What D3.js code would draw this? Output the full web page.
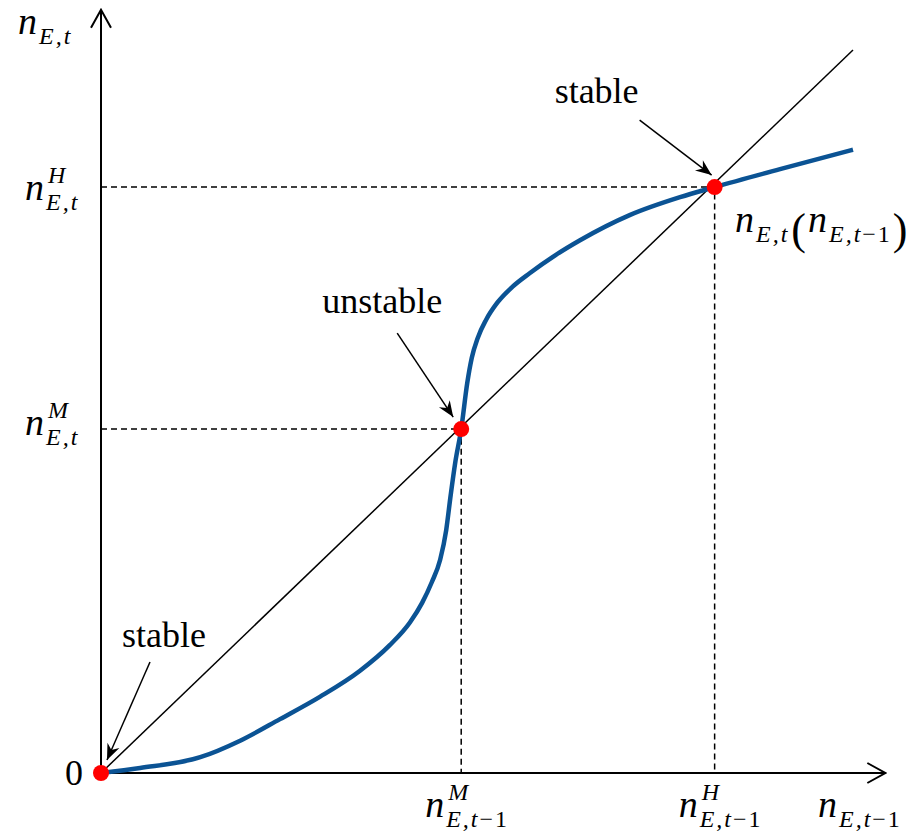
<!DOCTYPE html>
<html>
<head>
<meta charset="utf-8">
<script src="https://cdn.jsdelivr.net/npm/d3@7"></script>
<style>
  body { margin: 0; background: #fff; }
  svg { display: block; }
</style>
</head>
<body>
<script>
// n_{E,t} as a function of n_{E,t-1} (0..100 on both axes)
const curveX = [0, 5.2, 13.2, 18.5, 23.8, 29.1, 34.4, 38.4, 41.1, 42.7, 44.0, 45.1, 45.9, 46.5, 47.1, 47.9, 48.7, 49.3, 50.1, 51.2, 52.7, 54.7, 57.0, 60.4, 63.7, 70.3, 77.0, 81.6, 90.3, 100]
const curveY = [0, 0.7, 2.2, 4.5, 7.5, 10.6, 14.2, 17.8, 21.0, 23.7, 26.6, 29.7, 33.8, 38.7, 43.2, 47.9, 54.3, 57.8, 60.6, 63.1, 65.5, 67.7, 69.6, 72.1, 74.2, 77.7, 80.2, 81.6, 84.1, 86.8]

// fixed points on the 45 degree line
const eqValues = [0, 47.9, 81.6]
const eqLabels = ['stable', 'unstable', 'stable']
const eqSup = ['', 'M', 'H']

const width = 923
const height = 831
const mathFont = "'Liberation Serif'"
const wordFont = "'Liberation Serif'"

let svg = d3.select('body').append('svg')
    .attr('width', width)
    .attr('height', height)

let xScale = d3.scaleLinear().domain([0, 100]).range([101, 853])
let yScale = d3.scaleLinear().domain([0, 100]).range([773, 55])

let defs = svg.append('defs')
defs.append('marker')
    .attr('id', 'chevron')
    .attr('markerUnits', 'userSpaceOnUse')
    .attr('viewBox', '-20 -12 22 24')
    .attr('refX', 0).attr('refY', 0)
    .attr('markerWidth', 22).attr('markerHeight', 24)
    .attr('orient', 'auto')
    .append('path')
    .attr('d', 'M-18,-10 L0,0 L-18,10')
    .attr('fill', 'none')
    .attr('stroke', '#000')
    .attr('stroke-width', 2)
defs.append('marker')
    .attr('id', 'stealth')
    .attr('markerUnits', 'userSpaceOnUse')
    .attr('viewBox', '-17 -8 18 16')
    .attr('refX', 0).attr('refY', 0)
    .attr('markerWidth', 18).attr('markerHeight', 16)
    .attr('orient', 'auto')
    .append('path')
    .attr('d', 'M0,0 L-16,-6.5 L-11,0 L-16,6.5 Z')
    .attr('fill', '#000')

// axes with open arrow heads
svg.append('line')
    .attr('x1', xScale(0)).attr('y1', yScale(0))
    .attr('x2', xScale(104.3)).attr('y2', yScale(0))
    .attr('stroke', '#000').attr('stroke-width', 2)
    .attr('marker-end', 'url(#chevron)')
svg.append('line')
    .attr('x1', xScale(0)).attr('y1', yScale(0))
    .attr('x2', xScale(0)).attr('y2', yScale(106.3))
    .attr('stroke', '#000').attr('stroke-width', 2)
    .attr('marker-end', 'url(#chevron)')

// dashed guides
eqValues.slice(1).forEach(v => {
    svg.append('path')
        .attr('d', `M${xScale(0)},${yScale(v)} H${xScale(v)} V${yScale(0)}`)
        .attr('fill', 'none')
        .attr('stroke', '#000')
        .attr('stroke-width', 1.5)
        .attr('stroke-dasharray', '6,4')
})

// 45 degree line
svg.append('line')
    .attr('x1', xScale(0)).attr('y1', yScale(0))
    .attr('x2', xScale(100)).attr('y2', yScale(100.7))
    .attr('stroke', '#000').attr('stroke-width', 1.5)

// the curve
let line = d3.line()
    .x((d, i) => xScale(curveX[i]))
    .y((d, i) => yScale(curveY[i]))
    .curve(d3.curveMonotoneX)
svg.append('path')
    .attr('d', line(curveX))
    .attr('fill', 'none')
    .attr('stroke', '#0b5394')
    .attr('stroke-width', 4.5)

// annotation offsets from each point: text centre, arrow start, arrow tip
const notes = [
    { t: [63, -126], a: [49, -111], b: [6, -13] },
    { t: [-79, -116], a: [-64, -96], b: [-8, -12] },
    { t: [-118, -84], a: [-75, -67], b: [-3, -12] }
]
eqValues.forEach((v, i) => {
    let px = xScale(v), py = yScale(v), n = notes[i]
    svg.append('text')
        .style('font-family', wordFont)
        .style('font-size', '36px')
        .attr('x', px + n.t[0]).attr('y', py + n.t[1])
        .attr('text-anchor', 'middle')
        .text(eqLabels[i])
    svg.append('line')
        .attr('x1', px + n.a[0]).attr('y1', py + n.a[1])
        .attr('x2', px + n.b[0]).attr('y2', py + n.b[1])
        .attr('stroke', '#000').attr('stroke-width', 1.5)
        .attr('marker-end', 'url(#stealth)')
})

// red dots
svg.selectAll('circle.eq')
    .data(eqValues)
    .enter()
    .append('circle')
    .attr('class', 'eq')
    .attr('cx', d => xScale(d))
    .attr('cy', d => yScale(d))
    .attr('r', 8)
    .attr('fill', '#ff0000')

let mathText = (x, y, size, str) => svg.append('text')
    .style('font-family', mathFont)
    .style('font-style', 'italic')
    .style('font-size', size + 'px')
    .attr('x', x).attr('y', y)
    .text(str)

// n with optional superscript and E,t(-1) subscript; returns right edge
let mathLabel = (x, y, sup, lag) => {
    let n = mathText(x, y, 38, 'n')
    let sx = x + n.node().getComputedTextLength() + 2
    if (sup) mathText(sx + 2, y - 17, 24, sup)
    let sub = mathText(sx, y + 10, 24, 'E,t').style('letter-spacing', '2px')
    if (lag) sub.append('tspan').style('font-style', 'normal').text('\u22121')
    return sx + sub.node().getComputedTextLength()
}

// axis titles
mathLabel(18, 34, '', false)
mathLabel(818, 817, '', true)

// tick labels
const yLabelBase = { M: 435, H: 200 }
eqValues.slice(1).forEach((v, i) => {
    let s = eqSup[i + 1]
    mathLabel(xScale(v) - 36, 817, s, true)
    mathLabel(25, yLabelBase[s], s, false)
})
svg.append('text')
    .style('font-family', wordFont)
    .style('font-size', '36px')
    .attr('x', xScale(0) - 36).attr('y', yScale(0) + 12)
    .text('0')

// curve label n_{E,t}(n_{E,t-1})
let end = mathLabel(735, 232, '', false)
let paren = (x, s) => svg.append('text')
    .style('font-family', wordFont)
    .style('font-size', '44px')
    .attr('x', x).attr('y', 244).text(s)
let p1 = paren(end + 2, '(')
let end2 = mathLabel(end + 4 + p1.node().getComputedTextLength(), 232, '', true)
paren(end2 + 1, ')')
</script>
</body>
</html>
